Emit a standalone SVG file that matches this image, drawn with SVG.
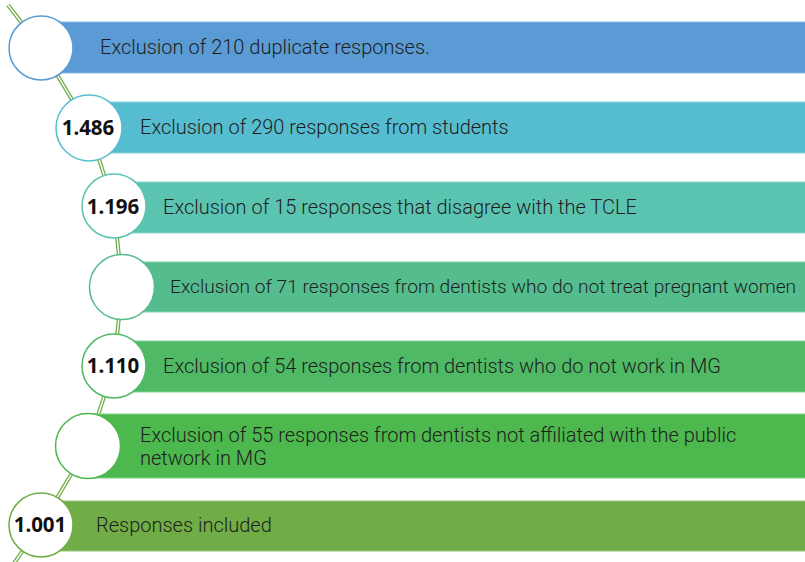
<svg xmlns="http://www.w3.org/2000/svg" width="805" height="562" viewBox="0 0 805 562">
<style>
.lbl{font-family:Roboto,"Liberation Sans",sans-serif;font-weight:300;font-size:20px;fill:#1e1e1e}
.num{font-family:"Noto Sans","Liberation Sans",sans-serif;font-weight:700;font-size:20.5px;fill:#111;text-anchor:middle}
.circ{fill:#fff;stroke-width:1.5}
.vine-o{fill:none;stroke:#70AD47;stroke-width:4}
.vine-i{fill:none;stroke:#fff;stroke-width:1.4}
</style>
<rect width="805" height="562" fill="#fff"/>
<g id="connectors">
<polyline class="vine-o" points="8,5 41,48 89,128 114,206 122,287 114,366 88,446 41,525 12,566"/>
<polyline class="vine-i" points="8,5 41,48 89,128 114,206 122,287 114,366 88,446 41,525 12,566"/>
</g>
<g id="step1">
<rect x="41" y="22" width="765" height="51" fill="#5B9BD5" stroke="#8DB9E4" stroke-width="1"/>
<circle class="circ" cx="41" cy="48" r="32" stroke="#5B9BD5"/>
<text class="lbl" x="100" y="54">Exclusion of 210 duplicate responses.</text>
</g>
<g id="step2">
<rect x="89" y="102" width="717" height="51" fill="#56BCCF" stroke="#8AD2DF" stroke-width="1"/>
<circle class="circ" cx="89" cy="128" r="33" stroke="#56BCCF"/>
<text class="num" x="88" y="135">1.486</text>
<text class="lbl" x="140" y="134">Exclusion of 290 responses from students</text>
</g>
<g id="step3">
<rect x="114" y="182" width="692" height="51" fill="#5BC4B1" stroke="#8DD6C9" stroke-width="1"/>
<circle class="circ" cx="114" cy="206" r="32" stroke="#5BC4B1"/>
<text class="num" x="113" y="214">1.196</text>
<text class="lbl" x="163" y="214">Exclusion of 15 responses that disagree with the TCLE</text>
</g>
<g id="step4">
<rect x="122" y="262" width="684" height="50" fill="#55BD8D" stroke="#89D2B0" stroke-width="1"/>
<circle class="circ" cx="122" cy="287" r="32.5" stroke="#55BD8D"/>
<text class="lbl" x="170" y="293" style="font-size:19.2px">Exclusion of 71 responses from dentists who do not treat pregnant women</text>
</g>
<g id="step5">
<rect x="114" y="341" width="692" height="51" fill="#4FB965" stroke="#85CF94" stroke-width="1"/>
<circle class="circ" cx="114" cy="366" r="32" stroke="#4FB965"/>
<text class="num" x="113" y="373">1.110</text>
<text class="lbl" x="163" y="373">Exclusion of 54 responses from dentists who do not work in MG</text>
</g>
<g id="step6">
<rect x="88" y="414" width="718" height="64" fill="#4DB84E" stroke="#84CE85" stroke-width="1"/>
<circle class="circ" cx="88" cy="446" r="32.5" stroke="#4DB84E"/>
<text class="lbl" x="140" y="442">Exclusion of 55 responses from dentists not affiliated with the public</text>
<text class="lbl" x="140" y="465">network in MG</text>
</g>
<g id="step7">
<rect x="41" y="501" width="765" height="50" fill="#70AD47" stroke="#9CC77F" stroke-width="1"/>
<circle class="circ" cx="41" cy="525" r="32" stroke="#70AD47"/>
<text class="num" x="40" y="532">1.001</text>
<text class="lbl" x="96" y="532">Responses included</text>
</g>
</svg>
